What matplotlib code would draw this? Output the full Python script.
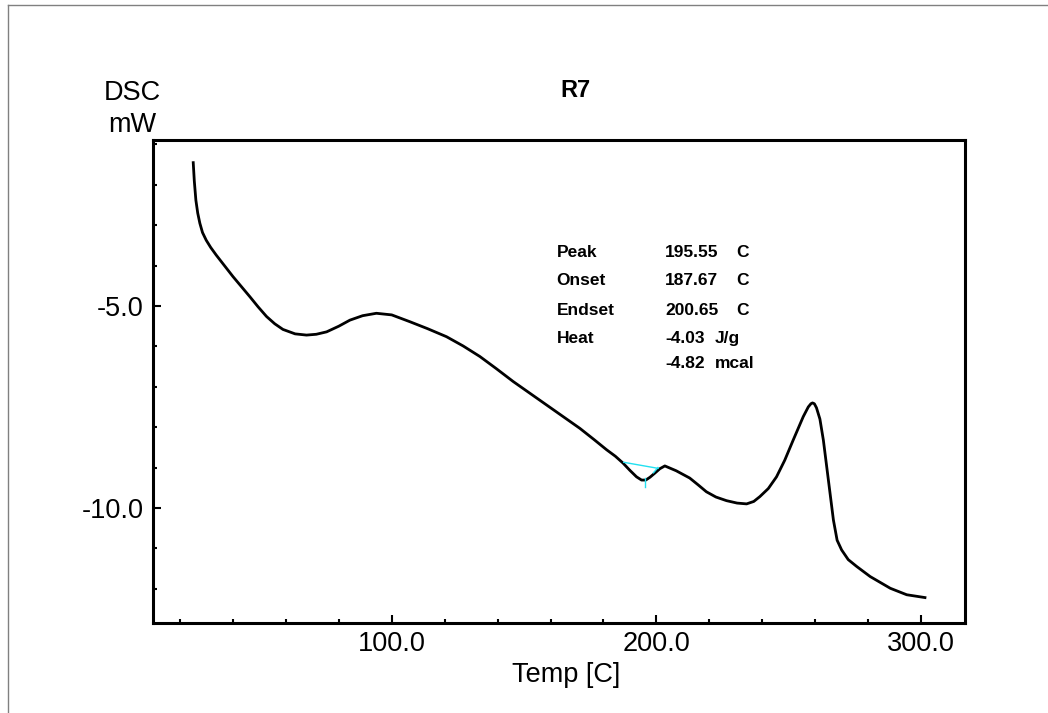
import matplotlib
matplotlib.use("Agg")
import matplotlib.pyplot as plt
from matplotlib.lines import Line2D
from matplotlib.ticker import MultipleLocator, FixedLocator

plt.rcParams['font.family'] = ['Liberation Sans', 'DejaVu Sans']

# DSC trace
temp = [25.0, 25.4, 26.0, 26.7, 27.5, 28.5, 29.9, 31.6, 33.7, 40.0, 46.4, 49.5, 52.7,
        55.8, 58.9, 63.5, 67.8, 71.5, 75.4, 80.0, 84.2, 89.0, 94.2, 100.0, 106.9,
        113.5, 120.7, 127.0, 133.3, 139.5, 145.9, 152.2, 158.5, 164.8, 171.1, 176.5,
        181.2, 184.5, 187.4, 190.0, 192.5, 194.4, 196.0, 197.6, 199.4, 201.3, 203.2,
        207.5, 212.6, 215.8, 218.9, 222.5, 226.5, 230.5, 234.1, 236.8, 239.1, 242.3,
        245.4, 248.5, 251.7, 255.5, 257.4, 258.4, 259.0, 259.7, 260.5, 261.8, 263.1,
        265.0, 266.9, 268.3, 270.0, 272.5, 275.7, 280.8, 288.4, 294.6, 301.5]
dsc = [-1.45, -1.90, -2.38, -2.70, -2.95, -3.18, -3.37, -3.55, -3.74, -4.27, -4.77,
       -5.02, -5.26, -5.44, -5.58, -5.69, -5.72, -5.70, -5.64, -5.50, -5.35, -5.24,
       -5.18, -5.22, -5.39, -5.56, -5.76, -5.99, -6.25, -6.55, -6.87, -7.16, -7.45,
       -7.74, -8.03, -8.31, -8.56, -8.72, -8.89, -9.07, -9.23, -9.31, -9.31, -9.24,
       -9.14, -9.03, -8.96, -9.08, -9.26, -9.43, -9.60, -9.73, -9.82, -9.88, -9.90,
       -9.84, -9.72, -9.52, -9.23, -8.82, -8.32, -7.74, -7.50, -7.42, -7.40, -7.42,
       -7.52, -7.80, -8.32, -9.31, -10.30, -10.80, -11.04, -11.28, -11.45, -11.70,
       -11.99, -12.15, -12.22]

# peak analysis markers (cyan)
base_t = [187.67, 200.65]
base_y = [-8.87, -9.02]
peak_t = [195.55, 195.55]
peak_y = [-9.26, -9.47]
end_t = [200.6, 198.9]
end_y = [-9.00, -9.13]

info_names = ["Peak", "Onset", "Endset", "Heat", ""]
info_values = ["195.55", "187.67", "200.65", "-4.03", "-4.82"]
info_units = ["C", "C", "C", "J/g", "mcal"]

fig = plt.figure(figsize=(10.48, 7.13), dpi=100)
ax = fig.add_axes([0.146, 0.1262, 0.775, 0.6774])

ax.plot(temp, dsc, color='black', lw=2.0, solid_joinstyle='round')
ax.plot(base_t, base_y, color='#22e0f0', lw=1.0)
ax.plot(peak_t, peak_y, color='#22e0f0', lw=1.0)
ax.plot(end_t, end_y, color='#22e0f0', lw=1.0)

ax.set_xlim(9.8, 316.7)
ax.set_ylim(-12.85, -0.89)

ax.xaxis.set_major_locator(FixedLocator([100, 200, 300]))
ax.xaxis.set_minor_locator(MultipleLocator(20))
ax.yaxis.set_major_locator(FixedLocator([-10, -5]))
ax.yaxis.set_minor_locator(MultipleLocator(1))
ax.set_xticklabels(["100.0", "200.0", "300.0"])
ax.set_yticklabels(["-10.0", "-5.0"])

ax.tick_params(which='both', direction='in', top=False, right=False, width=1.5,
               labelsize=19.5)
ax.tick_params(which='major', length=6, pad=6)
ax.tick_params(which='minor', length=3)
ax.tick_params(axis='y', which='major', pad=7)

for s in ax.spines.values():
    s.set_linewidth(2.2)

fig.text(0.5487, 0.864, "R7", fontsize=17, fontweight='bold', ha='center', va='baseline')
fig.text(0.126, 0.8597, "DSC", fontsize=19.5, ha='center', va='baseline')
fig.text(0.126, 0.8149, "mW", fontsize=19.5, ha='center', va='baseline')
fig.text(0.4885, 0.0435, "Temp [C]", fontsize=19.5, ha='left', va='baseline')

rows_y = [0.640, 0.6003, 0.5582, 0.5194, 0.4843]
unit_x = [0.703, 0.703, 0.703, 0.682, 0.682]
for name, val, unit, yy, ux in zip(info_names, info_values, info_units, rows_y, unit_x):
    fig.text(0.531, yy, name, fontsize=12.5, fontweight='bold', va='baseline')
    fig.text(0.6345, yy, val, fontsize=12.5, fontweight='bold', va='baseline')
    fig.text(ux, yy, unit, fontsize=12.5, fontweight='bold', va='baseline')

# thin grey frame at top and left of the page
fig.add_artist(Line2D([0.0072, 1.0], [0.993, 0.993], color='#808080', lw=1.0))
fig.add_artist(Line2D([0.0072, 0.0072], [0.0, 0.993], color='#808080', lw=1.0))

fig.savefig("out.png", dpi=100)
